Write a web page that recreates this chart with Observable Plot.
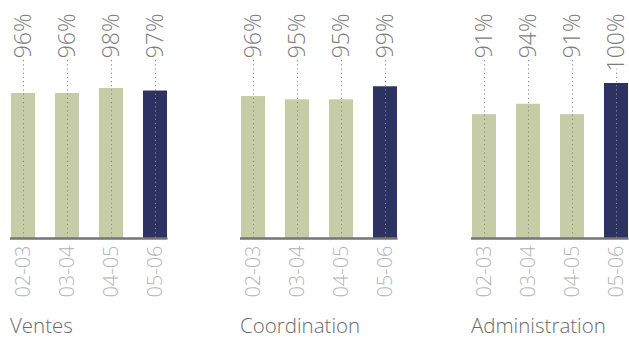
<!DOCTYPE html>
<html>
<head>
<meta charset="utf-8">
<script src="https://cdn.jsdelivr.net/npm/d3@7"></script>
<script src="https://cdn.jsdelivr.net/npm/@observablehq/plot@0.6"></script>
<style>
  html, body { margin: 0; padding: 0; background: #fff; }
  #wrap { position: relative; width: 629px; height: 341px; overflow: hidden; font-family: "Open Sans", sans-serif; }
  .panel { position: absolute; top: 0; width: 230px; }
  .title { position: absolute; left: 10px; top: 311px; font-size: 20.5px; font-weight: 300; color: #6b6b6b; white-space: nowrap; }
</style>
</head>
<body>
<div id="wrap"></div>
<script>
const years = ["02-03", "03-04", "04-05", "05-06"];
const ventes = [96, 96, 98, 97];
const coordination = [96, 95, 95, 99];
const administration = [91, 94, 91, 100];
const panelNames = ["Ventes", "Coordination", "Administration"];
const panelValues = [ventes, coordination, administration];
const yLows = [38, 52.5, 55.2];
const lefts = [0, 230, 461];

const wrap = document.getElementById("wrap");
panelNames.forEach((name, p) => {
  const data = years.map((yr, i) => ({year: yr, value: panelValues[p][i], current: i === years.length - 1}));
  const lo = yLows[p];
  const chart = Plot.plot({
    width: 230,
    height: 300,
    marginLeft: 10,
    marginRight: 62.5,
    marginTop: 83,
    marginBottom: 62,
    style: {fontFamily: "'Open Sans', sans-serif", background: "transparent", overflow: "visible"},
    x: {domain: years, paddingInner: 0.46, paddingOuter: 0, axis: null},
    y: {domain: [lo, 100], axis: null},
    marks: [
      Plot.barY(data, {x: "year", y1: lo, y2: "value", fill: d => d.current ? "#2e3263" : "#c6cca6"}),
      Plot.ruleY([lo], {stroke: "#757575", strokeWidth: 2.5}),
      Plot.ruleX(data, {x: "year", stroke: "#8a8a8a", strokeWidth: 1, strokeDasharray: "1.2,3", insetTop: -65}),
      Plot.text(data, {x: "year", frameAnchor: "top", lineAnchor: "middle", dy: -70, rotate: -90, textAnchor: "end",
        text: d => d.value + "%", fill: "#7d7d7d", stroke: "white", strokeWidth: 7, paintOrder: "stroke",
        fontSize: 23, fontWeight: 300}),
      Plot.text(data, {x: "year", frameAnchor: "bottom", lineAnchor: "middle", dy: 7, rotate: -90, textAnchor: "end",
        text: "year", fill: "#b3b3b3", fontSize: 20, fontWeight: 300})
    ]
  });
  const div = document.createElement("div");
  div.className = "panel";
  div.style.left = lefts[p] + "px";
  div.appendChild(chart);
  const t = document.createElement("div");
  t.className = "title";
  t.textContent = name;
  div.appendChild(t);
  wrap.appendChild(div);
});
</script>
</body>
</html>
